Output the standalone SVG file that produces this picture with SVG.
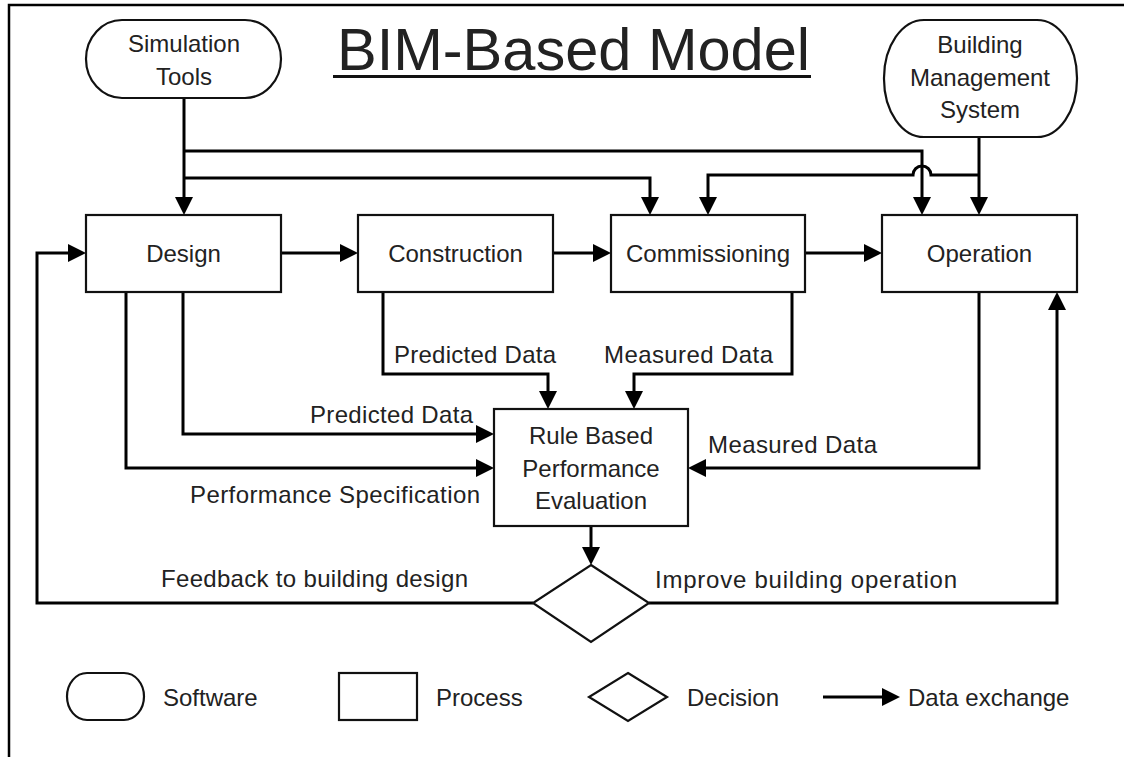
<svg xmlns="http://www.w3.org/2000/svg" width="1127" height="757" viewBox="0 0 1127 757">
<style>
text{font-family:"Liberation Sans",Arial,sans-serif;font-size:24px;fill:#222}
.c{text-anchor:middle}
.shape{fill:#fff;stroke:#111;stroke-width:2.2}
.conn{fill:none;stroke:#000;stroke-width:3;stroke-linejoin:miter}
.frame{fill:none;stroke:#000;stroke-width:2.5}
</style>
<defs>
<marker id="ah" viewBox="0 0 18 18" refX="12" refY="9" markerWidth="18" markerHeight="18" markerUnits="userSpaceOnUse" orient="auto">
<path d="M0,0 L18,9 L0,18 Z" fill="#000"/>
</marker>
</defs>
<rect width="1127" height="757" fill="#fff"/>
<path class="frame" d="M9,757 V5 H1124"/>
<g id="title">
<text x="337" y="70" style="font-size:60px" textLength="473" lengthAdjust="spacingAndGlyphs">BIM-Based Model</text>
<line x1="333" y1="76.5" x2="811" y2="76.5" stroke="#111" stroke-width="3"/>
</g>
<g id="connectors">
<path class="conn" d="M184,98 V209" marker-end="url(#ah)"/>
<path class="conn" d="M184,151 H922 V209" marker-end="url(#ah)"/>
<path class="conn" d="M184,178 H650 V209" marker-end="url(#ah)"/>
<path class="conn" d="M979,137 V209" marker-end="url(#ah)"/>
<path class="conn" d="M979,175 H931 A9,9 0 0 0 913,175 H708 V209" marker-end="url(#ah)"/>
<path class="conn" d="M281,253 H352" marker-end="url(#ah)"/>
<path class="conn" d="M553,253 H605" marker-end="url(#ah)"/>
<path class="conn" d="M805,253 H876" marker-end="url(#ah)"/>
<path class="conn" d="M383,292 V374 H548 V403" marker-end="url(#ah)"/>
<path class="conn" d="M792,292 V374 H634 V403" marker-end="url(#ah)"/>
<path class="conn" d="M183,292 V434 H488" marker-end="url(#ah)"/>
<path class="conn" d="M126,292 V468 H488" marker-end="url(#ah)"/>
<path class="conn" d="M979,292 V468 H694" marker-end="url(#ah)"/>
<path class="conn" d="M591,526 V559" marker-end="url(#ah)"/>
<path class="conn" d="M533,603 H37 V253 H80" marker-end="url(#ah)"/>
<path class="conn" d="M649,603 H1057 V298" marker-end="url(#ah)"/>
</g>
<g id="labels">
<text x="394" y="363" textLength="162" lengthAdjust="spacing">Predicted Data</text>
<text x="604" y="363" textLength="169" lengthAdjust="spacing">Measured Data</text>
<text x="310" y="423" textLength="163" lengthAdjust="spacing">Predicted Data</text>
<text x="708" y="453" textLength="169" lengthAdjust="spacing">Measured Data</text>
<text x="190" y="503" textLength="290" lengthAdjust="spacing">Performance Specification</text>
<text x="161" y="587" textLength="307" lengthAdjust="spacing">Feedback to building design</text>
<text x="655" y="588" textLength="302" lengthAdjust="spacing">Improve building operation</text>
</g>
<g id="simulation-tools">
<rect class="shape" x="86" y="20" width="195" height="78" rx="36" ry="39"/>
<text class="c" x="184" y="52">Simulation</text>
<text class="c" x="184" y="85">Tools</text>
</g>
<g id="bms">
<rect class="shape" x="884" y="20" width="193" height="117" rx="40" ry="58"/>
<text class="c" x="980" y="53">Building</text>
<text class="c" x="980" y="86">Management</text>
<text class="c" x="980" y="118">System</text>
</g>
<g id="design">
<rect class="shape" x="86" y="215" width="195" height="77"/>
<text class="c" x="183.5" y="262">Design</text>
</g>
<g id="construction">
<rect class="shape" x="358" y="215" width="195" height="77"/>
<text class="c" x="455.5" y="262">Construction</text>
</g>
<g id="commissioning">
<rect class="shape" x="611" y="215" width="194" height="77"/>
<text class="c" x="708" y="262">Commissioning</text>
</g>
<g id="operation">
<rect class="shape" x="882" y="215" width="195" height="77"/>
<text class="c" x="979.5" y="262">Operation</text>
</g>
<g id="rule-evaluation">
<rect class="shape" x="494" y="409" width="194" height="117"/>
<text class="c" x="591" y="444">Rule Based</text>
<text class="c" x="591" y="477">Performance</text>
<text class="c" x="591" y="509">Evaluation</text>
</g>
<g id="decision">
<polygon class="shape" points="591,565 649,603 591,642 533,603"/>
</g>
<g id="legend">
<rect class="shape" x="67" y="673" width="77" height="47" rx="20" ry="23.5"/>
<text x="163" y="706">Software</text>
<rect class="shape" x="339" y="673" width="78" height="47"/>
<text x="436" y="706">Process</text>
<polygon class="shape" points="628,673 667,697 628,721 589,697"/>
<text x="687" y="706">Decision</text>
<path class="conn" d="M823,697 H894" stroke-width="2.5" marker-end="url(#ah)"/>
<text x="908" y="706">Data exchange</text>
</g>
</svg>
